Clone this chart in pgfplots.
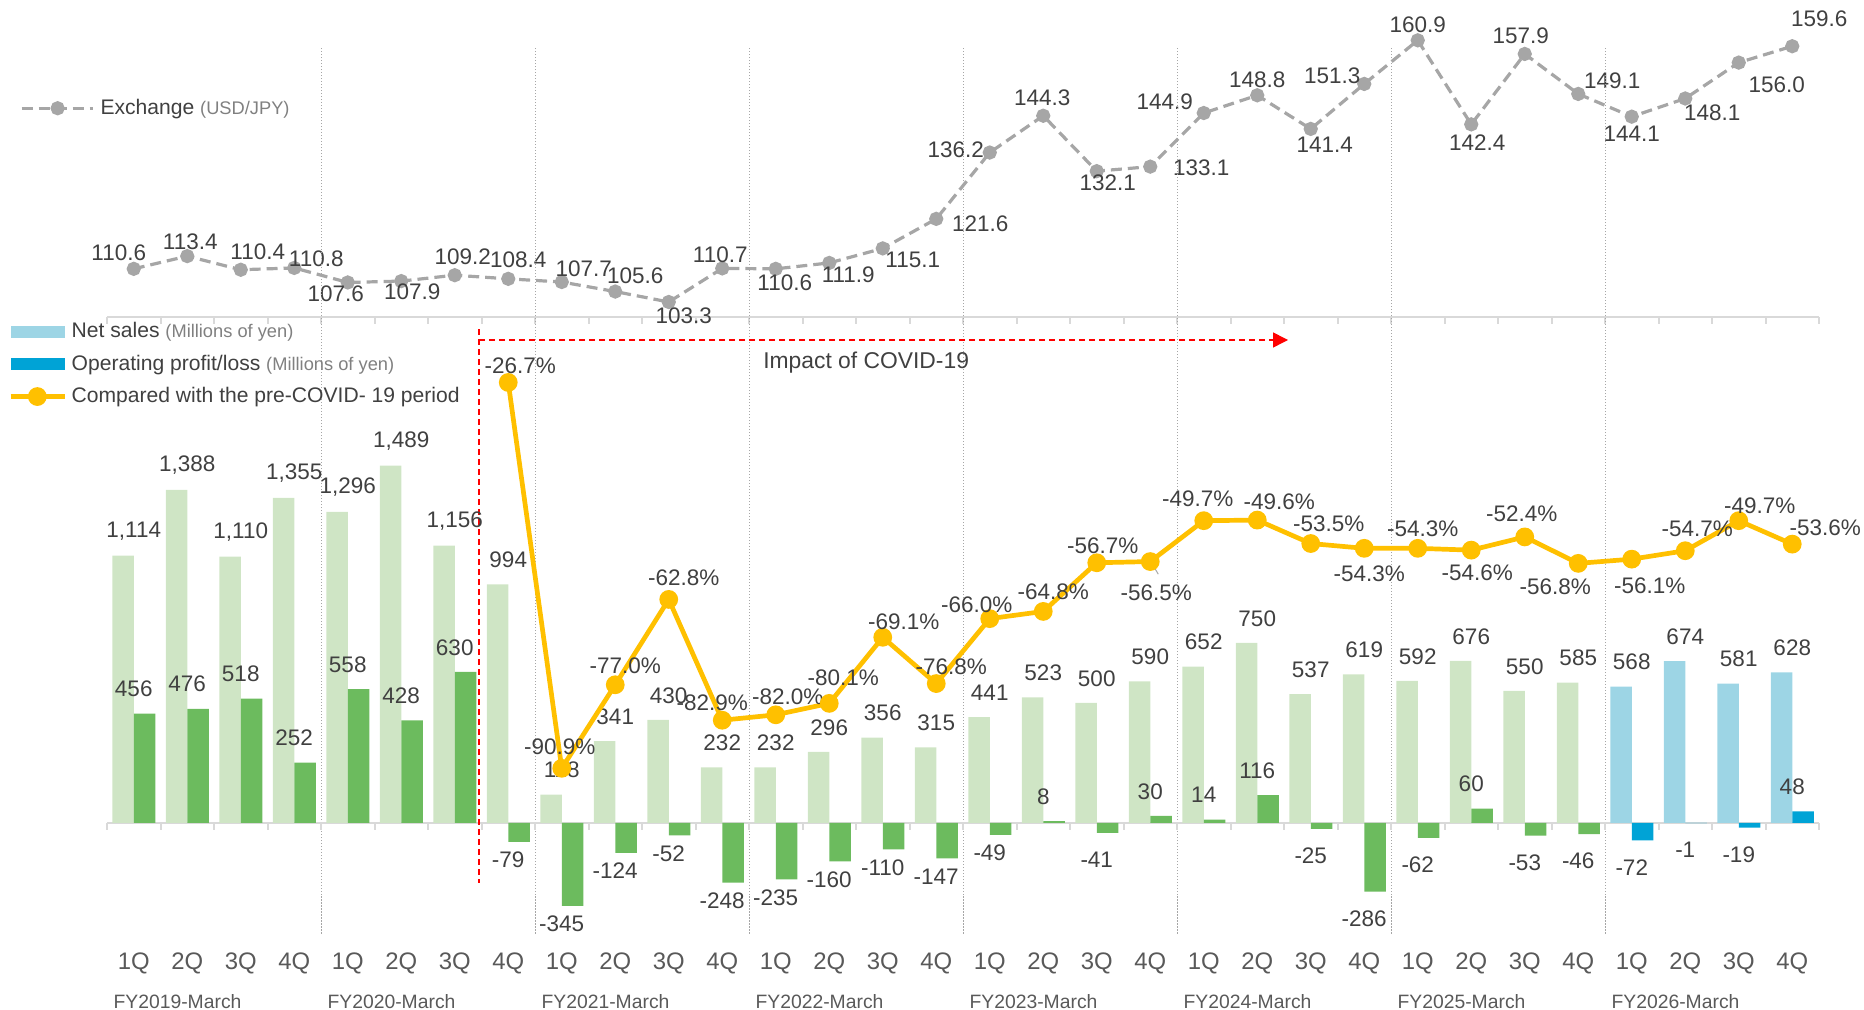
\documentclass[border=0pt]{standalone}
\usepackage{fontspec}
\setmainfont{Liberation Sans}
\usepackage{pgfplots}
\usepackage{pgfplotstable}
\pgfplotsset{compat=1.18}
\usetikzlibrary{arrows.meta}

\definecolor{nsgreen}{HTML}{CFE5C5}
\definecolor{opgreen}{HTML}{6CBB5E}
\definecolor{nsblue}{HTML}{9DD5E5}
\definecolor{opblue}{HTML}{00A3D6}
\definecolor{yellowc}{HTML}{FFC000}
\definecolor{exgray}{HTML}{A6A6A6}
\definecolor{labtext}{HTML}{404040}
\definecolor{ticktext}{HTML}{595959}
\definecolor{axisgray}{HTML}{D9D9D9}
\definecolor{sepgray}{HTML}{A6A6A6}
\definecolor{smallgray}{HTML}{808080}

\newcommand{\lab}{\fontsize{6.4pt}{7pt}\selectfont}
\newcommand{\tickfont}{\fontsize{6.8pt}{8pt}\selectfont}
\newcommand{\fyfont}{\fontsize{5.5pt}{6.5pt}\selectfont}
\newcommand{\legfont}{\fontsize{6pt}{7pt}\selectfont}
\newcommand{\legsmall}{\fontsize{5.2pt}{6pt}\selectfont}

% quarterly figures, FY2019-March .. FY2025-March (green) and FY2026-March (blue)
\pgfplotstableread{
x ns op
0 1114 456
1 1388 476
2 1110 518
3 1355 252
4 1296 558
5 1489 428
6 1156 630
7 994 -79
8 118 -345
9 341 -124
10 430 -52
11 232 -248
12 232 -235
13 296 -160
14 356 -110
15 315 -147
16 441 -49
17 523 8
18 500 -41
19 590 30
20 652 14
21 750 116
22 537 -25
23 619 -286
24 592 -62
25 676 60
26 550 -53
27 585 -46
}\greendata
\pgfplotstableread{
x ns op
28 568 -72
29 674 -1
30 581 -19
31 628 48
}\bluedata

% USD/JPY, label offsets dx/du in px
\pgfplotstableread{
x v dx du
0 110.6 -15 16
1 113.4 3 14
2 110.4 17 18
3 110.8 22 9
4 107.6 -12 -11
5 107.9 11 -11
6 109.2 8 18
7 108.4 10 19
8 107.7 22 13
9 105.6 20 16
10 103.3 15 -14
11 110.7 -2 14
12 110.6 9 -14
13 111.9 19 -12
14 115.1 30 -11
15 121.6 44 -5
16 136.2 -34 3
17 144.3 -1 18
18 132.1 11 -12
19 133.1 51 -1
20 144.9 -39 11
21 148.8 0 16
22 141.4 14 -16
23 151.3 -32 8
24 160.9 0 16
25 142.4 6 -18
26 157.9 -4 18
27 149.1 34 13
28 144.1 0 -17
29 148.1 27 -14
30 156.0 38 -22
31 159.6 27 27
}\exdata

% compared with the pre-COVID-19 period (%)
\pgfplotstableread{
x p dx du
7 -26.7 12 17
8 -90.9 -2 22
9 -77.0 10 19
10 -62.8 15 22
11 -82.9 -10 17
12 -82.0 12 18
13 -80.1 14 26
14 -69.1 21 16
15 -76.8 15 17
16 -66.0 -13 14
17 -64.8 10 20
18 -56.7 6 17
19 -56.5 6 -31
20 -49.7 -6 22
21 -49.6 22 18
22 -53.5 18 20
23 -54.3 5 -25
24 -54.3 5 20
25 -54.6 6 -23
26 -52.4 -3 23
27 -56.8 -23 -23
28 -56.1 18 -27
29 -54.7 12 22
30 -49.7 21 15
31 -53.6 33 16
}\covdata

\pgfplotsset{
  /pgf/number format/assume math mode=true,
  /pgf/number format/1000 sep={,},
  panel/.style={scale only axis, width=171.2mm, xmin=-0.5, xmax=31.5,
    clip=false, anchor=south west},
  shifted labels/.style={
    nodes near coords={\pgfmathprintnumber[fixed,fixed zerofill,precision=1]{\pgfplotspointmeta}#1},
    point meta=y,
    visualization depends on={\thisrow{dx} \as \lx},
    visualization depends on={\thisrow{du} \as \ly},
    nodes near coords style={font=\lab, text=labtext, inner sep=0pt, anchor=center,
      xshift=\lx*0.1mm, yshift=\ly*0.1mm},
  },
  bar labels/.style={
    nodes near coords,
    point meta=y,
    visualization depends on={\thisrow{x} \as \bx},
    visualization depends on={\thisrow{#1} \as \bv},
    nodes near coords style={font=\lab, text=labtext, inner sep=0pt, anchor=center,
      yshift={(\bv<0 ? (\bx<16.5 ? -18 : -27) : 24.5)*0.1mm}},
  },
  leg/.style={legend cell align=left,
    legend style={draw=none, fill=none, inner sep=0pt, outer sep=0pt,
      anchor=north west, font=\legfont, text=labtext, column sep=#1, row sep=1.09mm,
      nodes={inner sep=0pt, text height=1.7mm, text depth=0.45mm}}},
  exline/.style={exgray, line width=0.32mm, dash pattern=on 1.1mm off 0.6mm,
    mark=*, mark size=0.55mm, mark options={solid, fill=exgray}},
  covline/.style={yellowc, line width=0.47mm, mark=*, mark size=0.7mm,
    mark options={fill=yellowc}},
  exlegend/.style={legend image code/.code={\draw[##1, mark repeat=2, mark phase=2]
    plot coordinates {(0mm,0mm) (3.6mm,0mm) (7.15mm,0mm)};}},
  covlegend/.style={legend image code/.code={\draw[##1, mark repeat=2, mark phase=2]
    plot coordinates {(-0.12mm,0mm) (2.54mm,0mm) (5.34mm,0mm)};}},
  nslegend/.style={legend image code/.code={\fill[nsblue] (0mm,-0.53mm) rectangle (5.24mm,0.53mm);}},
  oplegend/.style={legend image code/.code={\fill[opblue] (0mm,-0.53mm) rectangle (5.24mm,0.53mm);}},
}

\begin{document}
\begin{tikzpicture}
\useasboundingbox (0,0) rectangle (186.4mm,101mm);

% exchange rate panel
\begin{axis}[panel, at={(10.7mm,69.3mm)}, height=29.53mm,
  ymin=100, ymax=165,
  axis x line*=bottom, axis y line=none,
  x axis line style={axisgray, line width=0.25mm},
  xtick={-0.5,0.5,...,31.5}, xticklabels={},
  tick align=outside, major tick length=0.7mm,
  tick style={axisgray, line width=0.2mm},
  leg=0.58mm, legend style={at={(-0.0508,0.7433)}},
]
\addlegendimage{exline, exlegend}
\addlegendentry{Exchange {\legsmall\textcolor{smallgray}{(USD/JPY)}}}
\addplot[exline, shifted labels={}, forget plot] table[x=x, y=v] {\exdata};
\end{axis}

% net sales and operating profit
\begin{axis}[panel, at={(10.7mm,7mm)}, height=61mm,
  ymin=-487.5, ymax=2054.17,
  axis x line*=bottom, axis y line=none,
  x axis line style={draw=none}, major tick length=0pt,
  xtick={0,...,31},
  xticklabels={1Q,2Q,3Q,4Q,1Q,2Q,3Q,4Q,1Q,2Q,3Q,4Q,1Q,2Q,3Q,4Q,
    1Q,2Q,3Q,4Q,1Q,2Q,3Q,4Q,1Q,2Q,3Q,4Q,1Q,2Q,3Q,4Q},
  xticklabel style={font=\tickfont, text=ticktext, anchor=center, yshift=-2.3mm},
]
\pgfplotsinvokeforeach{3.5,7.5,...,27.5}{
  \draw[sepgray, line width=0.1mm, dash pattern=on 0.15mm off 0.15mm]
    (axis cs:#1,-462.5) -- (axis cs:#1,3229);
}
\draw[axisgray, line width=0.25mm] (axis cs:-0.5,0) -- (axis cs:31.5,0);
\pgfplotsinvokeforeach{-0.5,0.5,...,31.5}{
  \draw[axisgray, line width=0.2mm] (axis cs:#1,0) -- (axis cs:#1,-29);
}
\addplot[ybar, bar width=2.15mm, bar shift=-1.075mm, fill=nsgreen, draw=none,
  bar labels=ns] table[x=x, y=ns] {\greendata};
\addplot[ybar, bar width=2.15mm, bar shift=1.075mm, fill=opgreen, draw=none,
  bar labels=op] table[x=x, y=op] {\greendata};
\addplot[ybar, bar width=2.15mm, bar shift=-1.075mm, fill=nsblue, draw=none,
  bar labels=ns] table[x=x, y=ns] {\bluedata};
\addplot[ybar, bar width=2.15mm, bar shift=1.075mm, fill=opblue, draw=none,
  bar labels=op] table[x=x, y=op] {\bluedata};

\draw[red, line width=0.15mm, dash pattern=on 0.6mm off 0.4mm]
  (axis cs:6.45,2058) -- (axis cs:6.45,-250);
\draw[red, line width=0.15mm, dash pattern=on 0.6mm off 0.4mm,
  -{Triangle[length=1.5mm, width=1.5mm]}]
  (axis cs:6.45,2012.5) -- (axis cs:21.575,2012.5);
\node[font=\fontsize{6.5pt}{7.5pt}\selectfont, text=labtext]
  at (axis cs:13.69,1916.7) {Impact of COVID-19};

\begin{scope}[every node/.style={anchor=west, inner sep=0pt, font=\fyfont, text=ticktext}]
\node at (axis cs:-0.39,-743.75) {FY2019-March};
\node at (axis cs:3.61,-743.75) {FY2020-March};
\node at (axis cs:7.61,-743.75) {FY2021-March};
\node at (axis cs:11.61,-743.75) {FY2022-March};
\node at (axis cs:15.61,-743.75) {FY2023-March};
\node at (axis cs:19.61,-743.75) {FY2024-March};
\node at (axis cs:23.61,-743.75) {FY2025-March};
\node at (axis cs:27.61,-743.75) {FY2026-March};
\end{scope}
\end{axis}

% percentage line on its own scale
\begin{axis}[panel, at={(10.7mm,7mm)}, height=61mm,
  ymin=-119.47, ymax=-17.97, hide axis,
  leg=0.4mm, legend style={at={(-0.0576,1.01475)}},
]
\addlegendimage{nslegend}
\addlegendentry{Net sales {\legsmall\textcolor{smallgray}{(Millions of yen)}}}
\addlegendimage{oplegend}
\addlegendentry{Operating profit/loss {\legsmall\textcolor{smallgray}{(Millions of yen)}}}
\addlegendimage{covline, covlegend}
\addlegendentry{Compared with the pre-COVID- 19 period}
\addplot[covline, shifted labels={\%}, forget plot] table[x=x, y=p] {\covdata};
\draw[exgray, line width=0.1mm] (axis cs:19.03,-56.8) -- (axis cs:19.15,-58.6);
\end{axis}
\end{tikzpicture}
\end{document}
